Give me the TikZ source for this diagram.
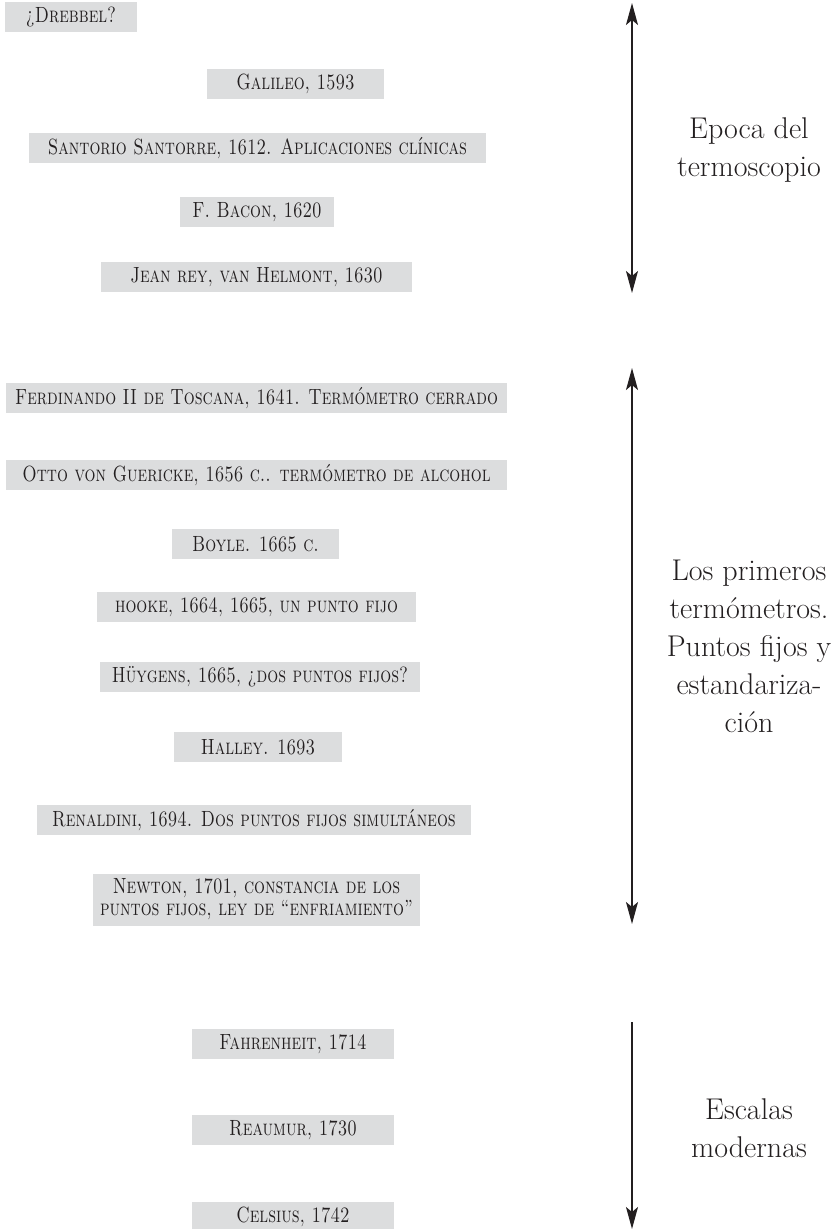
\documentclass[tikz,border=0pt]{standalone}
\usepackage{fontspec}
\usetikzlibrary{arrows.meta}
\definecolor{boxgray}{HTML}{DCDDDE}
\definecolor{ink}{HTML}{231F20}
\newcommand{\evtext}[1]{\scalebox{0.78}[1]{#1}}
\begin{document}
\begin{tikzpicture}[x=1pt,y=-1pt,
  >={Stealth[length=22pt,width=12pt,inset=5pt]},
  ev/.style={fill=boxgray, inner sep=0pt, minimum height=30pt, text=ink,
    font=\fontsize{22}{21}\selectfont\scshape},
  era/.style={text=ink, align=center, inner sep=0pt, font=\fontsize{30}{38}\selectfont},
  span/.style={draw=ink, line width=1.5pt}]
\useasboundingbox (0,0) rectangle (838,1229);

% events
\node[ev, minimum width=132pt] (drebbel) at (71,17) {\evtext{¿Drebbel?}};
\node[ev, minimum width=177pt] (galileo) at (295.5,84) {\evtext{Galileo, 1593}};
\node[ev, minimum width=457pt] (santorio) at (257.5,148) {\evtext{Santorio Santorre, 1612. Aplicaciones clínicas}};
\node[ev, minimum width=154pt] (bacon) at (257,212) {\evtext{F. Bacon, 1620}};
\node[ev, minimum width=311pt] (rey) at (256.5,277) {\evtext{Jean rey, van Helmont, 1630}};

\node[ev, minimum width=501pt] (ferdinando) at (256.5,398) {\evtext{Ferdinando II de Toscana, 1641. Termómetro cerrado}};
\node[ev, minimum width=501pt] (otto) at (256.5,475) {\evtext{Otto von Guericke, 1656 c.. termómetro de alcohol}};
\node[ev, minimum width=167pt] (boyle) at (255.5,544) {\evtext{Boyle. 1665 c.}};
\node[ev, minimum width=319pt] (hooke) at (256.5,607) {\evtext{hooke, 1664, 1665, un punto fijo}};
\node[ev, minimum width=320pt] (huygens) at (260,677) {\evtext{Hüygens, 1665, ¿dos puntos fijos?}};
\node[ev, minimum width=168pt] (halley) at (258,747) {\evtext{Halley. 1693}};
\node[ev, minimum width=434pt] (renaldini) at (254,820) {\evtext{Renaldini, 1694. Dos puntos fijos simultáneos}};
\node[ev, minimum width=327pt, minimum height=52pt] (newton) at (256.5,900)
  {\evtext{\begin{tabular}{@{}c@{}}Newton, 1701, constancia de los\\puntos fijos, ley de “enfriamiento”\end{tabular}}};

\node[ev, minimum width=202pt] (fahrenheit) at (293,1044) {\evtext{Fahrenheit, 1714}};
\node[ev, minimum width=202pt] (reaumur) at (293,1130) {\evtext{Reaumur, 1730}};
\node[ev, minimum width=202pt] (celsius) at (293,1217) {\evtext{Celsius, 1742}};

% era labels
\node[era] (era1) at (749,150) {Epoca del\\termoscopio};
\node[era] (era2) at (749,646) {Los primeros\\termómetros.\\Puntos fijos y\\estandariza-\\ción};
\node[era] (era3) at (749,1128) {Escalas\\modernas};

% spans
\coordinate (a1t) at (632,3);
\coordinate (a1b) at (632,293);
\coordinate (a2t) at (632,368);
\coordinate (a2b) at (632,924);
\coordinate (a3t) at (632,1022);
\coordinate (a3b) at (632,1229);
\draw[span, <->] (a1t) -- (a1b);
\draw[span, <->] (a2t) -- (a2b);
\draw[span, ->] (a3t) -- (a3b);
\end{tikzpicture}
\end{document}
